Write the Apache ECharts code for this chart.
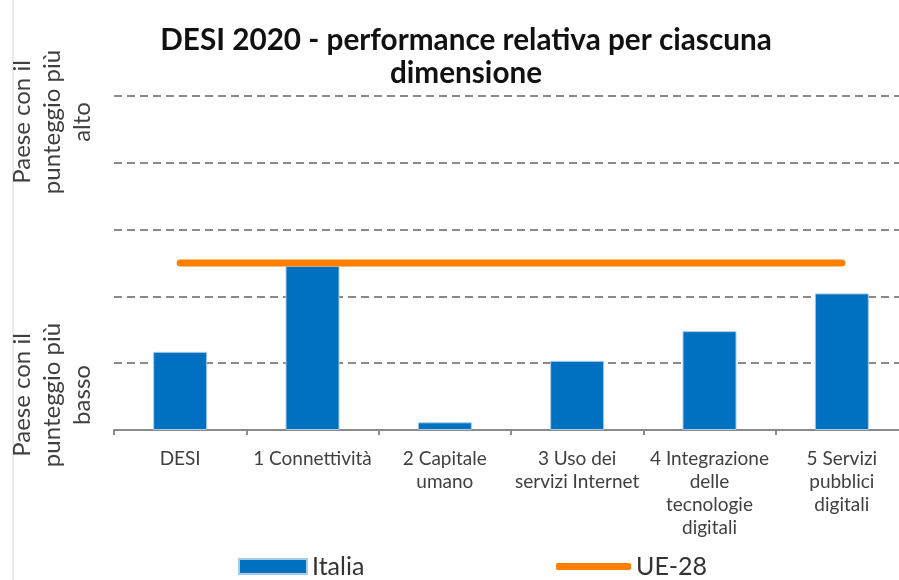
<!DOCTYPE html>
<html><head><meta charset="utf-8">
<script src="https://cdn.jsdelivr.net/npm/echarts@6/dist/echarts.min.js"></script>
<style>html,body{margin:0;padding:0;background:#fff;overflow:hidden;width:899px;height:580px}#c{width:912px;height:580px}</style>
</head><body><div id="c"></div>
<script>
const categories = ['DESI', '1 Connettività', '2 Capitale\numano', '3 Uso dei\nservizi Internet', '4 Integrazione\ndelle\ntecnologie\ndigitali', '5 Servizi\npubblici\ndigitali'];
const italia = [23.4, 49.1, 2.3, 20.7, 29.6, 40.9];
const ue28 = [50, 50, 50, 50, 50, 50];
const yTopLabel = 'Paese con il\npunteggio più\nalto';
const yBottomLabel = 'Paese con il\npunteggio più\nbasso';
const FONT = 'Lato';

const chart = echarts.init(document.getElementById('c'), null, {renderer: 'canvas'});
chart.setOption({
  animation: false,
  backgroundColor: '#fff',
  textStyle: {fontFamily: FONT},
  title: {
    text: 'DESI 2020 - performance relativa per ciascuna\ndimensione',
    left: 461, top: 19, textAlign: 'center',
    textStyle: {fontFamily: FONT, fontSize: 29.7, fontWeight: 'bold', color: '#111', lineHeight: 33}
  },
  legend: [
    {data: ['Italia'], left: 233, top: 549, itemWidth: 68, itemHeight: 15, icon: 'rect', itemGap: 6,
     textStyle: {fontFamily: FONT, fontSize: 25, color: '#333'}},
    {data: ['UE-28'], left: 551, top: 549, itemWidth: 75, itemHeight: 7, icon: 'roundRect',
     textStyle: {fontFamily: FONT, fontSize: 25, color: '#333'}}
  ],
  grid: {left: 114, top: 96, width: 794, height: 334, containLabel: false},
  xAxis: {
    type: 'category', data: categories,
    axisLine: {lineStyle: {color: '#8a8a8a', width: 2}},
    axisTick: {show: true, length: 5, lineStyle: {color: '#8a8a8a', width: 2}},
    axisLabel: {fontFamily: FONT, fontSize: 19, color: '#404040', lineHeight: 23, margin: 17, interval: 0}
  },
  yAxis: {
    type: 'value', min: 0, max: 100, interval: 20,
    axisLabel: {show: false}, axisLine: {show: false}, axisTick: {show: false},
    splitLine: {lineStyle: {color: '#8a8a8a', width: 2, type: [8, 5]}}
  },
  series: [
    {name: 'Italia', type: 'bar', data: italia, barWidth: 54,
     itemStyle: {color: '#0070C0', borderColor: '#a9cbe6', borderWidth: 1}},
    {name: 'UE-28', type: 'line', data: ue28, symbol: 'none', z: 5,
     lineStyle: {color: '#FF7F00', width: 7, cap: 'round'}, itemStyle: {color: '#FF7F00'}}
  ],
  graphic: [
    {type: 'line', shape: {x1: 13, y1: 0, x2: 13, y2: 580}, style: {stroke: '#d4d4d4', lineWidth: 1}},
    {type: 'text', x: 52, y: 122, rotation: Math.PI / 2,
     style: {text: yTopLabel, fontFamily: FONT, fontSize: 24, lineHeight: 30, fill: '#404040', align: 'center', verticalAlign: 'middle'}},
    {type: 'text', x: 52, y: 395, rotation: Math.PI / 2,
     style: {text: yBottomLabel, fontFamily: FONT, fontSize: 24, lineHeight: 30, fill: '#404040', align: 'center', verticalAlign: 'middle'}}
  ]
});
</script></body></html>
